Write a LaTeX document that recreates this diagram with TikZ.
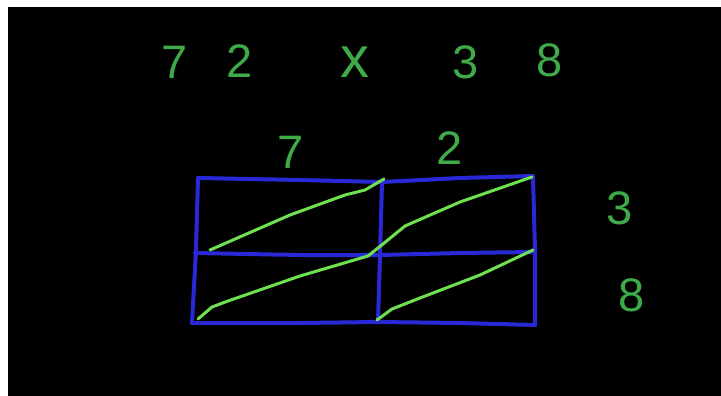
\documentclass[tikz,border=0pt]{standalone}
\usepackage{fontspec}
\setmainfont{Liberation Sans}
\definecolor{chalkgreen}{RGB}{62,170,72}
\definecolor{linegreen}{RGB}{110,225,80}
\definecolor{gridblue}{RGB}{40,40,215}
\tikzset{
  digit/.style={text=chalkgreen, font=\fontsize{47}{47}\selectfont, inner sep=0pt, anchor=center},
  gridline/.style={draw=gridblue, line width=4pt, line cap=round, line join=round},
  diag/.style={draw=linegreen, line width=3pt, line cap=round, line join=round}
}
\begin{document}
\begin{tikzpicture}[x=1pt,y=-1pt]
\useasboundingbox (0,0) rectangle (721,396);
\fill[white] (0,0) rectangle (721,396);
\fill[black] (8,7) rectangle (721,396);
% title
\node[digit] (t7) at (175,62) {7};
\node[digit] (t2) at (240,61) {2};
\node[digit, font=\fontsize{58}{58}\selectfont] (tx) at (355,62) {x};
\node[digit] (t3) at (466,62) {3};
\node[digit] (t8) at (550,60) {8};
% column labels
\node[digit] (c7) at (291,152) {7};
\node[digit] (c2) at (450,148) {2};
% row labels
\node[digit] (r3) at (620,208) {3};
\node[digit] (r8) at (632,295) {8};
% grid
\draw[gridline] (198,178) -- (300,180) -- (382,182) -- (460,178) -- (533,176);
\draw[gridline] (195,253) -- (300,255) -- (380,255) -- (460,253) -- (534,252);
\draw[gridline] (192,323) -- (300,323) -- (378,322) -- (460,323) -- (535,325);
\draw[gridline] (198,178) -- (196,250) -- (192,323);
\draw[gridline] (382,182) -- (380,255) -- (378,322);
\draw[gridline] (533,176) -- (535,250) -- (535,325);
% diagonals
\draw[diag] (210,250) -- (290,215) -- (345,195) -- (365,190) -- (384,179);
\draw[diag] (198,319) -- (212,307) -- (228,301) -- (300,276) -- (368,256) -- (383,244) -- (405,226) -- (460,202) -- (532,177);
\draw[diag] (377,320) -- (392,309) -- (420,298) -- (480,275) -- (533,250);
\end{tikzpicture}
\end{document}
